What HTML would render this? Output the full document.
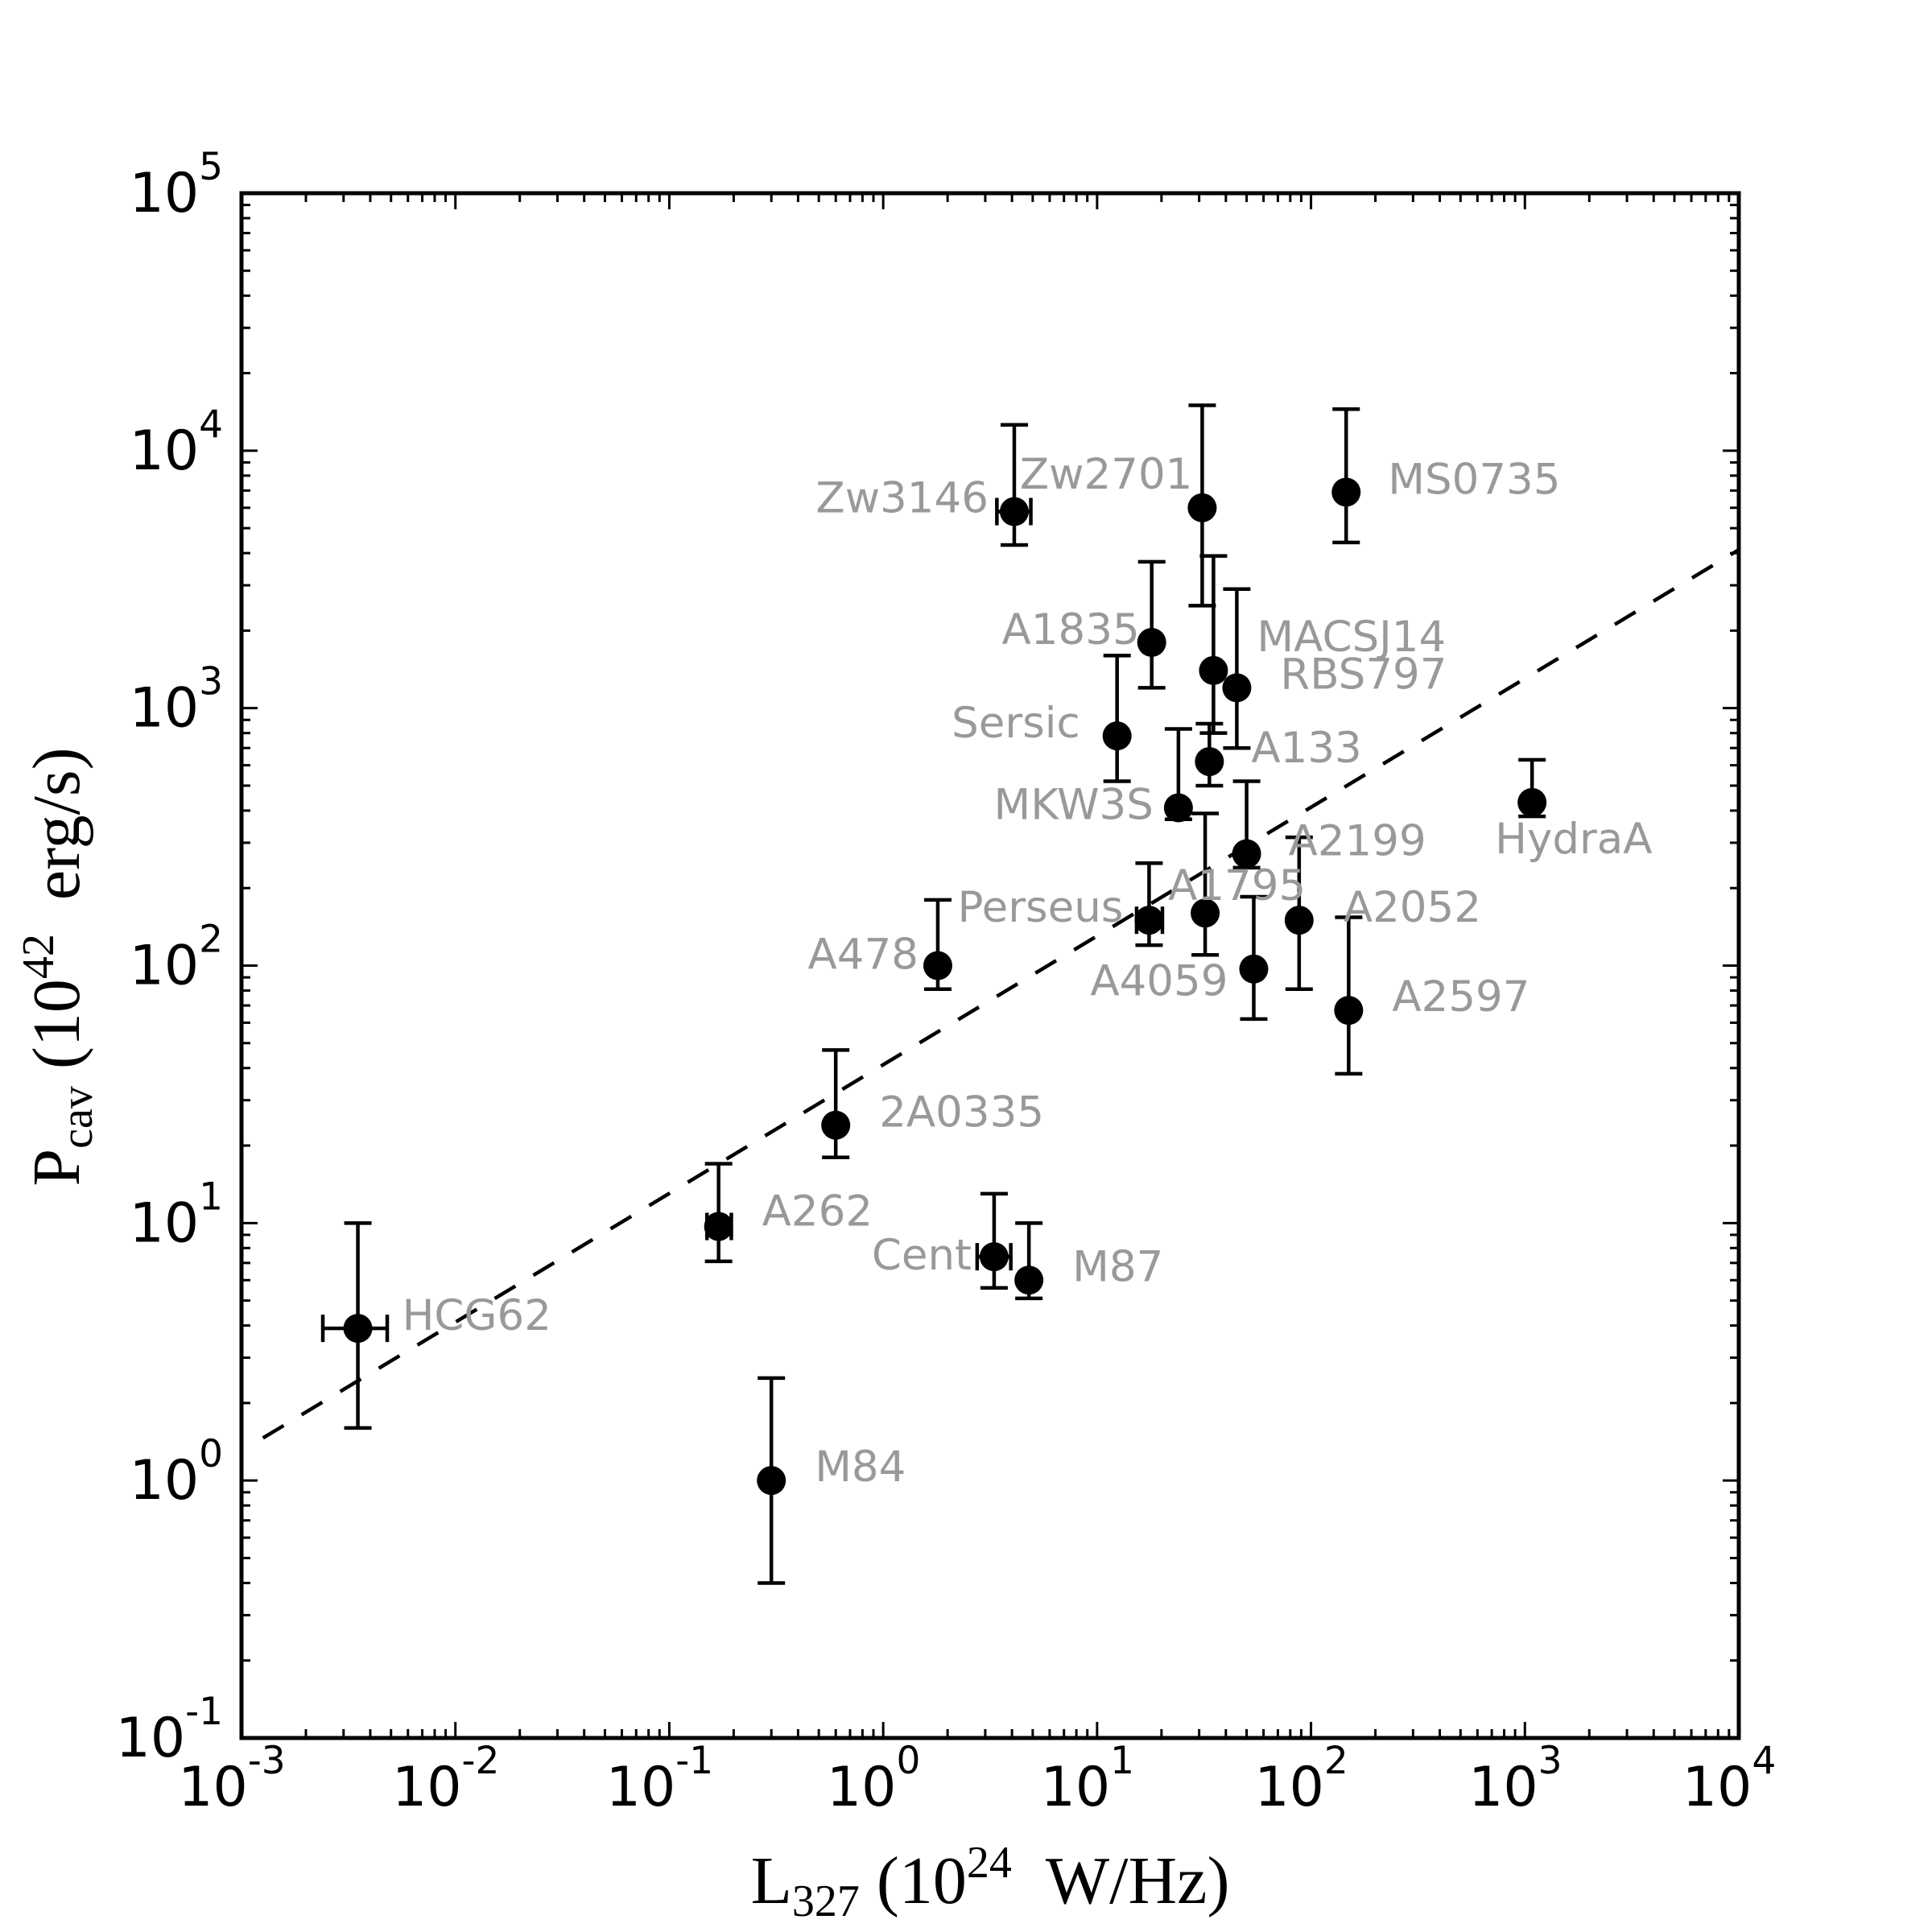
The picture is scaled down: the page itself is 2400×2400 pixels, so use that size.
<!DOCTYPE html>
<html><head><meta charset="utf-8"><style>
html,body{margin:0;padding:0;background:#fff;}
svg{display:block;}
</style></head>
<body>
<svg id="chart" width="2400" height="2400" viewBox="0 0 2400 2400" xmlns="http://www.w3.org/2000/svg">
<rect width="2400" height="2400" fill="#fff"/>
<g id="marks"></g>
<g id="ticks"></g>
<rect x="300" y="240" width="1860" height="1919" fill="none" stroke="#000" stroke-width="5"/>
<text transform="translate(98,1201) rotate(-90)" text-anchor="middle" font-family="Liberation Serif, serif" font-size="84">P<tspan font-size="56" dy="16">cav</tspan><tspan dy="-16">&#160;(10</tspan><tspan font-size="56" dy="-32">42</tspan><tspan dy="32">&#160;&#160;erg/s)</tspan></text>
<text x="1230" y="2364" text-anchor="middle" font-family="Liberation Serif, serif" font-size="84">L<tspan font-size="56" dy="16">327</tspan><tspan dy="-16">&#160;(10</tspan><tspan font-size="56" dy="-32">24</tspan><tspan dy="32">&#160;&#160;W/Hz)</tspan></text>
</svg>
<script>
// data (log-log)
const names = ["HCG62","M84","A262","2A0335","A478","Cent","M87","Zw3146","Zw2701","MS0735","A1835","MACSJ14","RBS797","Sersic","A133","MKW3S","A2199","HydraA","Perseus","A1795","A2052","A4059","A2597"];
const lum   = [0.0035,0.3,0.17,0.6,1.8,3.3,4.8,4.1,31,146,18,35,45,12.4,33.5,24,50,1080,17.5,32,88,54,150];
const pcav  = [3.9,1.0,9.7,24,100,7.4,6.0,5800,6000,6900,1800,1400,1200,780,620,410,272,430,150,160,150,97,67];
const pcavHi= [10,2.5,17,47,180,13,10,12600,15000,14500,3700,3900,2900,1600,870,830,520,630,250,390,315,185,154];
const pcavLo= [1.6,0.4,7.1,18,81,5.6,5.1,4300,2500,4400,1200,800,700,520,500,370,240,380,120,110,81,62,38];
const lumLo = [0.0024,null,0.15,null,null,2.75,null,3.4,null,null,null,null,null,null,null,null,null,null,15.3,null,null,null,null];
const lumHi = [0.0048,null,0.195,null,null,3.95,null,4.9,null,null,null,null,null,null,null,null,null,null,20.2,null,null,null,null];
// label offsets (px) relative to point
const labelDx = [55,54,54,54,-24,-28,54,-32,-12,52,-15,54,54,-46,52,-31,52,-46,-32,-46,55,-32,54];
const labelDy = [-17,-18,-20,-17,-15,-3,-18,-18,-43,-17,-17,-43,-18,-17,-18,-5,-17,44,-17,-35,-17,14,-18];
const labelAnchor = ["start","start","start","start","end","end","start","end","end","start","end","start","start","end","start","end","start","start","end","start","start","end","start"];
// fit line: log P = slope*log L + intercept
const fitSlope = 0.5, fitIntercept = 1.615, fitRange = [0.00126, 10000];
const xTicks = [-3,-2,-1,0,1,2,3,4];
const yTicks = [-1,0,1,2,3,4,5];

const X0=300,X1=2160,Y0=240,Y1=2159;
const xs = v => X0 + (Math.log10(v)+3)/7*(X1-X0);
const ys = v => Y1 - (Math.log10(v)+1)/6*(Y1-Y0);
const NS="http://www.w3.org/2000/svg";
function mk(tag, attrs, parent){const e=document.createElementNS(NS,tag);for(const k in attrs)e.setAttribute(k,attrs[k]);parent.appendChild(e);return e;}
const marks=document.getElementById('marks'), ticks=document.getElementById('ticks');

const fl = mk('line',{x1:xs(fitRange[0]),y1:ys(Math.pow(10,fitSlope*Math.log10(fitRange[0])+fitIntercept)),x2:xs(fitRange[1]),y2:ys(Math.pow(10,fitSlope*Math.log10(fitRange[1])+fitIntercept)),stroke:'#000','stroke-width':4.5,'stroke-dasharray':'30 26'},marks);



for(let i=0;i<names.length;i++){
  const g=mk('g',{},marks);
  
  
  const cx=xs(lum[i]), cy=ys(pcav[i]);
  const yh=ys(pcavHi[i]), yl=ys(pcavLo[i]);
  mk('line',{x1:cx,y1:yh,x2:cx,y2:yl,stroke:'#000','stroke-width':4.5},g);
  mk('line',{x1:cx-17,y1:yh,x2:cx+17,y2:yh,stroke:'#000','stroke-width':4.5},g);
  mk('line',{x1:cx-17,y1:yl,x2:cx+17,y2:yl,stroke:'#000','stroke-width':4.5},g);
  if(lumLo[i]!==null){
    const xl=xs(lumLo[i]), xh=xs(lumHi[i]);
    mk('line',{x1:xl,y1:cy,x2:xh,y2:cy,stroke:'#000','stroke-width':4.5},g);
    mk('line',{x1:xl,y1:cy-17,x2:xl,y2:cy+17,stroke:'#000','stroke-width':4.5},g);
    mk('line',{x1:xh,y1:cy-17,x2:xh,y2:cy+17,stroke:'#000','stroke-width':4.5},g);
  }
  mk('circle',{cx:cx,cy:cy,r:18,fill:'#000'},g);
}
for(let i=0;i<names.length;i++){
  const t=mk('text',{x:xs(lum[i])+labelDx[i],y:ys(pcav[i])+labelDy[i]+19,'text-anchor':labelAnchor[i],'font-family':'DejaVu Sans, Liberation Sans, sans-serif','font-size':53,fill:'#999999'},marks);
  
  
  t.textContent=names[i];
}
function tl(x1,y1,x2,y2){mk('line',{x1,y1,x2,y2,stroke:'#000','stroke-width':3},ticks);}
for(let d=-3; d<=4; d++){
  for(let m=1;m<=9;m++){
    if(d===4 && m>1) break;
    const v=m*Math.pow(10,d), x=xs(v), L=(m===1?20:11);
    tl(x,Y1,x,Y1-L); tl(x,Y0,x,Y0+L);
  }
}
for(let d=-1; d<=5; d++){
  for(let m=1;m<=9;m++){
    if(d===5 && m>1) break;
    const v=m*Math.pow(10,d), y=ys(v), L=(m===1?20:11);
    tl(X0,y,X0+L,y); tl(X1,y,X1-L,y);
  }
}
for(const e of xTicks){
  const t=mk('text',{x:xs(Math.pow(10,e))-12,y:2243,'text-anchor':'middle','font-family':'DejaVu Sans, Liberation Sans, sans-serif','font-size':68,fill:'#000'},ticks);
  
  
  t.appendChild(document.createTextNode('10'));
  const s=mk('tspan',{'font-size':47,dy:-40},t); s.textContent=String(e);
}
for(const e of yTicks){
  const t=mk('text',{x:277,y:ys(Math.pow(10,e))+23,'text-anchor':'end','font-family':'DejaVu Sans, Liberation Sans, sans-serif','font-size':68,fill:'#000'},ticks);
  
  
  t.appendChild(document.createTextNode('10'));
  const s=mk('tspan',{'font-size':47,dy:-40},t); s.textContent=String(e);
}
</script>
</body></html>
